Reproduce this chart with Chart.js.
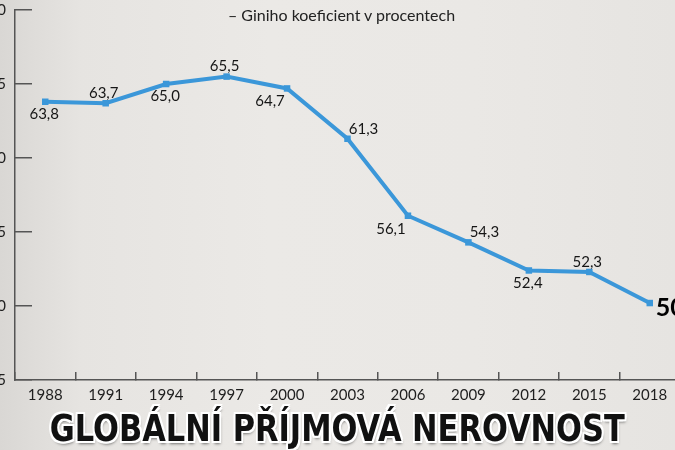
<!DOCTYPE html>
<html><head><meta charset="utf-8">
<script src="https://cdn.jsdelivr.net/npm/chart.js@4"></script>
<style>
html,body{margin:0;padding:0;width:675px;height:450px;overflow:hidden;}
body{position:relative;background:linear-gradient(90deg,#d9d7d4 0%,#e6e4e1 12%,#ebe9e6 40%,#eae8e5 70%,#e6e4e1 100%);}
#wrap{position:absolute;left:-30px;top:0;width:720px;height:450px;}
#sub{position:absolute;top:5px;left:4px;width:675px;text-align:center;font:16px Lato,sans-serif;color:#222;}
#title{position:absolute;left:0;top:406px;width:675px;text-align:center;white-space:nowrap;}
#title span{display:inline-block;font:bold 38px "Liberation Sans Narrow","DejaVu Sans Condensed",sans-serif;color:#111;transform-origin:center;
text-shadow:-2px -2px 0 #fff,2px -2px 0 #fff,-2px 2px 0 #fff,2px 2px 0 #fff,0 -2px 0 #fff,0 2px 0 #fff,-2px 0 0 #fff,2px 0 0 #fff,1px 3px 3px rgba(0,0,0,.5);}
</style></head>
<body>
<div id="wrap"><canvas id="c" width="720" height="450"></canvas></div>
<div id="sub">– Giniho koeficient v procentech</div>
<div id="title"><span id="ts">GLOBÁLNÍ PŘÍJMOVÁ NEROVNOST</span></div>
<script>
const years = ['1988','1991','1994','1997','2000','2003','2006','2009','2012','2015','2018'];
const gini = [63.8, 63.7, 65.0, 65.5, 64.7, 61.3, 56.1, 54.3, 52.4, 52.3, 50.2];
const yTicks = [45, 50, 55, 60, 65, 70];
const labelPlacement = ['b','a','b','a','bl','ar','bl','ar','b','a','r'];

const ts = document.getElementById('ts');
const w = ts.getBoundingClientRect().width;
ts.style.transform = 'scaleX(' + (575 / w) + ')';

const fmt = v => v.toFixed(1).replace('.', ',');
const offsets = {a:[-2,-10], b:[-1,12.5], bl:[-17,13], ar:[16,-10], r:[6,5]};

const pointLabels = {
  id: 'pointLabels',
  afterDatasetsDraw(chart) {
    const ctx = chart.ctx;
    const meta = chart.getDatasetMeta(0);
    ctx.save();
    ctx.textBaseline = 'middle';
    meta.data.forEach((pt, i) => {
      const p = labelPlacement[i];
      const o = offsets[p];
      if (p === 'r') {
        ctx.font = 'bold 25px Lato, sans-serif';
        ctx.textAlign = 'left';
        ctx.fillStyle = '#000';
      } else {
        ctx.font = '15px Lato, sans-serif';
        ctx.textAlign = 'center';
        ctx.fillStyle = '#161616';
      }
      ctx.fillText(fmt(gini[i]), pt.x + o[0], pt.y + o[1]);
    });
    ctx.restore();
  }
};

new Chart(document.getElementById('c'), {
  type: 'line',
  data: {
    labels: years,
    datasets: [{
      data: gini,
      borderColor: '#3b97d9',
      backgroundColor: '#3b97d9',
      borderWidth: 4,
      pointStyle: 'rect',
      pointRadius: 4.6,
      pointBorderWidth: 0,
      tension: 0,
      clip: false
    }]
  },
  options: {
    responsive: false,
    animation: false,
    layout: {padding: {top: 10, right: 10, left: 0, bottom: 0}},
    plugins: {legend: {display: false}, title: {display: false}, tooltip: {enabled: false}},
    scales: {
      x: {
        type: 'category',
        offset: true,
        grid: {offset: true, drawOnChartArea: false, drawTicks: true, tickLength: -8, color: '#555', lineWidth: 1.5},
        border: {color: '#555', width: 1.5},
        ticks: {color: '#1e1e1e', font: {family: 'Lato', size: 15}, padding: 14, autoSkip: false, maxRotation: 0},
        afterFit(s) { s.height = 70; s.paddingLeft = 0; s.paddingRight = 0; }
      },
      y: {
        min: 45, max: 70,
        afterBuildTicks(s) { s.ticks = yTicks.map(v => ({value: v})); },
        grid: {drawOnChartArea: false, drawTicks: true, tickLength: -17, color: '#555', lineWidth: 1.5},
        border: {color: '#555', width: 1.5},
        ticks: {color: '#1e1e1e', font: {family: 'Lato', size: 15}, padding: 26},
        afterFit(s) { s.width = 45; s.paddingTop = 0; s.paddingBottom = 0; }
      }
    }
  },
  plugins: [pointLabels]
});
</script>
</body></html>
